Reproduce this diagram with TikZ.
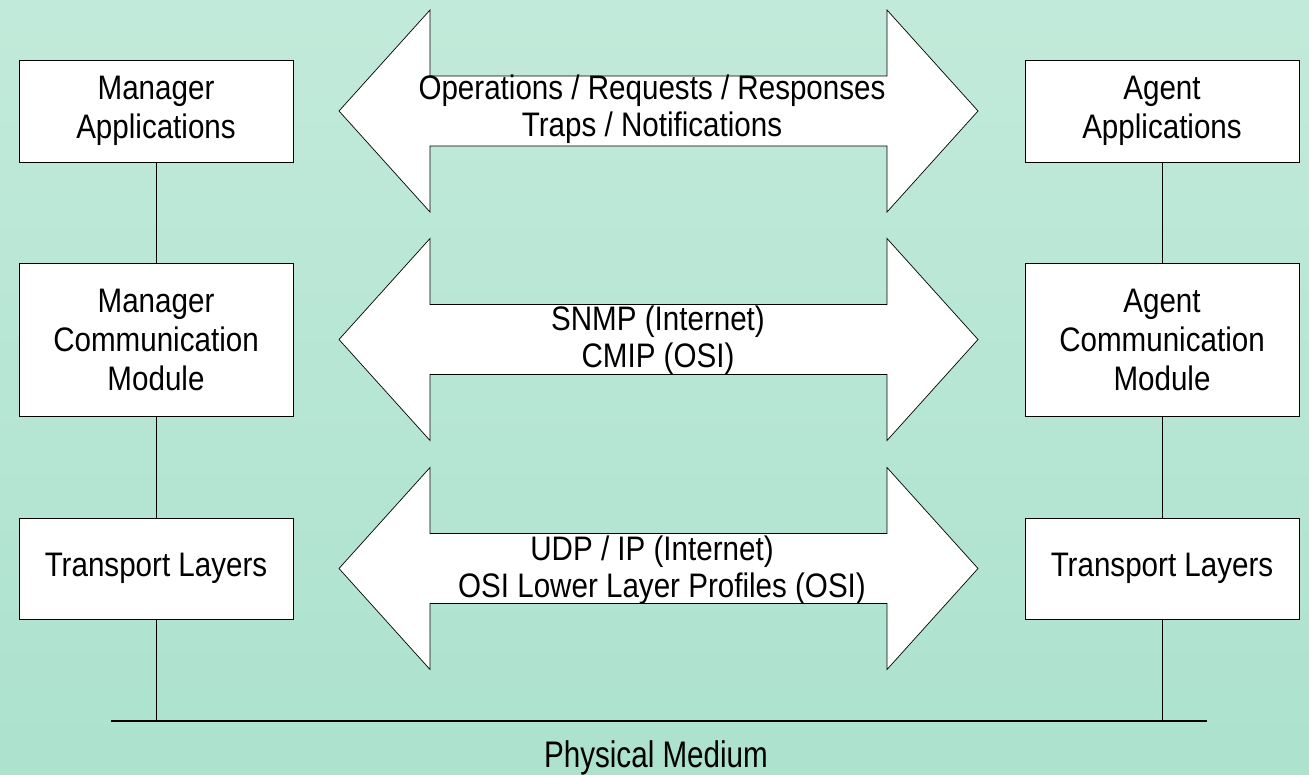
\documentclass[tikz,border=0pt]{standalone}
\usepackage{fontspec}
\usepackage{graphicx}
\setmainfont{Liberation Sans}[FakeStretch=0.87]
\definecolor{bgtop}{RGB}{194,234,218}
\definecolor{bgbottom}{RGB}{172,226,206}
\begin{document}
\begin{tikzpicture}[x=1pt,y=-1pt,
  layerbox/.style={draw=black, line width=0.9pt, fill=white, minimum width=274pt,
    align=center, inner sep=0pt, font=\fontsize{34}{39}\selectfont},
  flow/.style={draw=black, line width=0.7pt, fill=white, line join=miter},
  flowtext/.style={align=center, inner sep=0pt, font=\fontsize{34}{37}\selectfont},
  link/.style={draw=black, line width=0.8pt},
  medium/.style={draw=black, line width=1.3pt}]

% background
\shade[top color=bgtop, bottom color=bgbottom] (0,0) rectangle (1309,774);
\useasboundingbox (0,0) rectangle (1309,774);

% double-headed exchange arrows, one per layer
\foreach \cy in {111,339.5,568.5}{
  \path[flow] (339,\cy) -- (430,{\cy-101}) -- (430,{\cy-35}) -- (887,{\cy-35})
    -- (887,{\cy-101}) -- (978,\cy) -- (887,{\cy+101}) -- (887,{\cy+35})
    -- (430,{\cy+35}) -- (430,{\cy+101}) -- cycle;
}

\node[flowtext] (ops) at (652,109) {Operations / Requests / Responses\\Traps / Notifications};
\node[flowtext] (proto) at (658,340) {SNMP (Internet)\\CMIP (OSI)};
\node[flowtext] (trans) at (662,570) {UDP / IP (Internet)\hspace*{20pt}\\OSI Lower Layer Profiles (OSI)};

% manager side
\node[layerbox, minimum height=102pt] (mapp) at (156,111) {Manager\\Applications};
\node[layerbox, minimum height=153pt] (mcom) at (156,339.5) {Manager\\Communication\\Module};
\node[layerbox, minimum height=101pt] (mtl) at (156,568.5) {Transport Layers};

% agent side
\node[layerbox, minimum height=102pt] (aapp) at (1162,111) {Agent\\Applications};
\node[layerbox, minimum height=153pt] (acom) at (1162,339.5) {Agent\\Communication\\Module};
\node[layerbox, minimum height=101pt] (atl) at (1162,568.5) {Transport Layers};

% physical medium
\coordinate (medl) at (111,721);
\coordinate (medr) at (1207,721);
\draw[medium] (medl) -- (medr);
\node[anchor=base, inner sep=0pt, font=\fontsize{37}{40}\selectfont] (phys) at (656,767)
  {\scalebox{0.92}[1]{Physical Medium}};

% stack connections
\draw[link] (mapp.south) -- (mcom.north);
\draw[link] (mcom.south) -- (mtl.north);
\draw[link] (mtl.south) -- (mtl.south |- medl);
\draw[link] (aapp.south) -- (acom.north);
\draw[link] (acom.south) -- (atl.north);
\draw[link] (atl.south) -- (atl.south |- medr);
\end{tikzpicture}
\end{document}
